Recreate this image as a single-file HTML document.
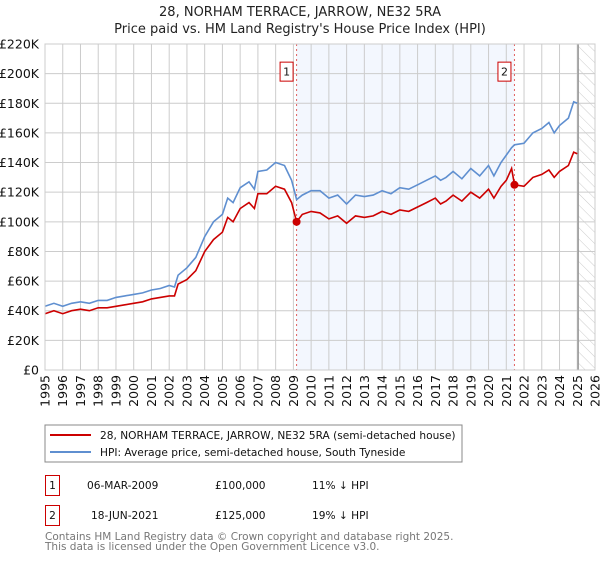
<!DOCTYPE html>
<html><head><meta charset="utf-8"><style>
body{margin:0;background:#fff;font-family:"Liberation Sans","DejaVu Sans",sans-serif;}
svg text{font-family:"DejaVu Sans","Liberation Sans",sans-serif;}
</style></head><body>
<svg id="c" width="600" height="560" xmlns="http://www.w3.org/2000/svg">
<defs><pattern id="hatch" width="8" height="8" patternUnits="userSpaceOnUse" patternTransform="rotate(-45)"><line x1="0" y1="0" x2="0" y2="8" stroke="#ccc" stroke-width="1"/></pattern></defs>
<text x="300" y="16" text-anchor="middle" font-size="13" fill="#222">28, NORHAM TERRACE, JARROW, NE32 5RA</text>
<text x="300" y="33" text-anchor="middle" font-size="13" fill="#222">Price paid vs. HM Land Registry's House Price Index (HPI)</text>
<g id="plot"></g>
<rect x="45" y="425" width="417" height="37" fill="#fff" stroke="#888"/>
<line x1="50" y1="435" x2="91" y2="435" stroke="#cc0000" stroke-width="2"/>
<text x="100" y="439" font-size="10.6" fill="#111">28, NORHAM TERRACE, JARROW, NE32 5RA (semi-detached house)</text>
<line x1="50" y1="452" x2="91" y2="452" stroke="#5f8fd0" stroke-width="2"/>
<text x="100" y="456" font-size="10.6" fill="#111">HPI: Average price, semi-detached house, South Tyneside</text>
<g font-size="10.6" fill="#111">
<rect x="45.5" y="475.5" width="14" height="20" fill="none" stroke="#cc0000"/>
<text x="52.5" y="489" text-anchor="middle">1</text>
<text x="87" y="489">06-MAR-2009</text>
<text x="215" y="489">£100,000</text>
<text x="312" y="489">11% ↓ HPI</text>
<rect x="45.5" y="505.5" width="14" height="20" fill="none" stroke="#cc0000"/>
<text x="52.5" y="519" text-anchor="middle">2</text>
<text x="91" y="519">18-JUN-2021</text>
<text x="215" y="519">£125,000</text>
<text x="312" y="519">19% ↓ HPI</text>
</g>
<text x="45" y="540" font-size="10.5" fill="#777">Contains HM Land Registry data © Crown copyright and database right 2025.</text>
<text x="45" y="550" font-size="10.5" fill="#777">This data is licensed under the Open Government Licence v3.0.</text>
</svg>
<script>
const years=[1995,1995.5,1996,1996.5,1997,1997.5,1998,1998.5,1999,1999.5,2000,2000.5,2001,2001.5,2002,2002.3,2002.5,2003,2003.5,2004,2004.5,2005,2005.3,2005.6,2006,2006.5,2006.8,2007,2007.5,2008,2008.5,2008.9,2009.18,2009.5,2010,2010.5,2011,2011.5,2012,2012.5,2013,2013.5,2014,2014.5,2015,2015.5,2016,2016.5,2017,2017.3,2017.6,2018,2018.5,2019,2019.5,2020,2020.3,2020.7,2021,2021.3,2021.46,2022,2022.5,2023,2023.4,2023.7,2024,2024.5,2024.8,2025];
const hpiValues=[43,45,43,45,46,45,47,47,49,50,51,52,54,55,57,56,64,69,76,90,100,105,116,113,123,127,122,134,135,140,138,128,115,118,121,121,116,118,112,118,117,118,121,119,123,122,125,128,131,128,130,134,129,136,131,138,131,140,145,150,152,153,160,163,167,160,165,170,181,180];
const propertyValues=[38,40,38,40,41,40,42,42,43,44,45,46,48,49,50,50,58,61,67,80,88,93,103,100,109,113,109,119,119,124,122,113,100,105,107,106,102,104,99,104,103,104,107,105,108,107,110,113,116,112,114,118,114,120,116,122,116,124,128,136,125,124,130,132,135,130,134,138,147,146];
const saleYears=[2009.18,2021.46];
const saleValues=[100,125];
const saleLabels=["1","2"];
const yTicks=[0,20,40,60,80,100,120,140,160,180,200,220];
const xTicks=[1995,1996,1997,1998,1999,2000,2001,2002,2003,2004,2005,2006,2007,2008,2009,2010,2011,2012,2013,2014,2015,2016,2017,2018,2019,2020,2021,2022,2023,2024,2025,2026];
const L=45,R=595,T=44,B=370,x0=1995,x1=2026,yMax=220;
const xs=v=>L+(v-x0)/(x1-x0)*(R-L);
const ys=v=>B-v/yMax*(B-T);
const NS="http://www.w3.org/2000/svg";
const g=document.getElementById('plot');
function mk(tag,attrs,parent){const e=document.createElementNS(NS,tag);for(const k in attrs)e.setAttribute(k,attrs[k]);(parent||g).appendChild(e);return e;}
let e;
e=mk('rect',{x:xs(saleYears[0]),y:T,width:xs(saleYears[1])-xs(saleYears[0]),height:B-T,fill:'#eef3fd',opacity:0.7});


e=mk('rect',{x:xs(2025.05),y:T,width:R-xs(2025.05),height:B-T,fill:'url(#hatch)'});


yTicks.forEach(t=>{
 e=mk('line',{x1:L,x2:R,y1:ys(t),y2:ys(t),stroke:'#ccc','stroke-width':1});
 
 
 e=mk('text',{x:L-6,y:ys(t)+4.5,'text-anchor':'end','font-size':12.5,fill:'#111'});
 e.textContent=t===0?'£0':'£'+t+'K';
 
 
});
xTicks.forEach(t=>{
 e=mk('line',{x1:xs(t),x2:xs(t),y1:T,y2:B,stroke:'#ccc','stroke-width':1});
 
 
 e=mk('text',{x:0,y:0,'text-anchor':'end','font-size':12.5,fill:'#111',transform:`translate(${xs(t)+4.5},${B+5}) rotate(-90)`});
 e.textContent=t;
 
 
});
e=mk('line',{x1:xs(2025.05),x2:xs(2025.05),y1:T,y2:B,stroke:'#999','stroke-width':1.5});


saleYears.forEach((s,i)=>{
 e=mk('line',{x1:xs(s),x2:xs(s),y1:T,y2:B,stroke:'#e06060','stroke-width':1,'stroke-dasharray':'2,3'});
 
 
});
function path(vals){return years.map((y,i)=>(i?'L':'M')+xs(y).toFixed(1)+','+ys(vals[i]).toFixed(1)).join('');}
e=mk('path',{d:path(hpiValues),fill:'none',stroke:'#5f8fd0','stroke-width':1.6});


e=mk('path',{d:path(propertyValues),fill:'none',stroke:'#cc0000','stroke-width':1.6});


saleYears.forEach((s,i)=>{
 e=mk('circle',{cx:xs(s),cy:ys(saleValues[i]),r:4,fill:'#cc0000'});
 
 
 const bx=xs(s)-17,by=ys(200)-12;
 e=mk('rect',{x:bx+0.5,y:by+0.5,width:13,height:19,fill:'#fff',stroke:'#cc0000'});
 
 
 e=mk('text',{x:bx+7,y:by+14,'text-anchor':'middle','font-size':11,fill:'#111'});
 e.textContent=saleLabels[i];
 
 
});
e=mk('rect',{x:L,y:T,width:R-L,height:B-T,fill:'none',stroke:'#ccc'});


</script>
</body></html>
